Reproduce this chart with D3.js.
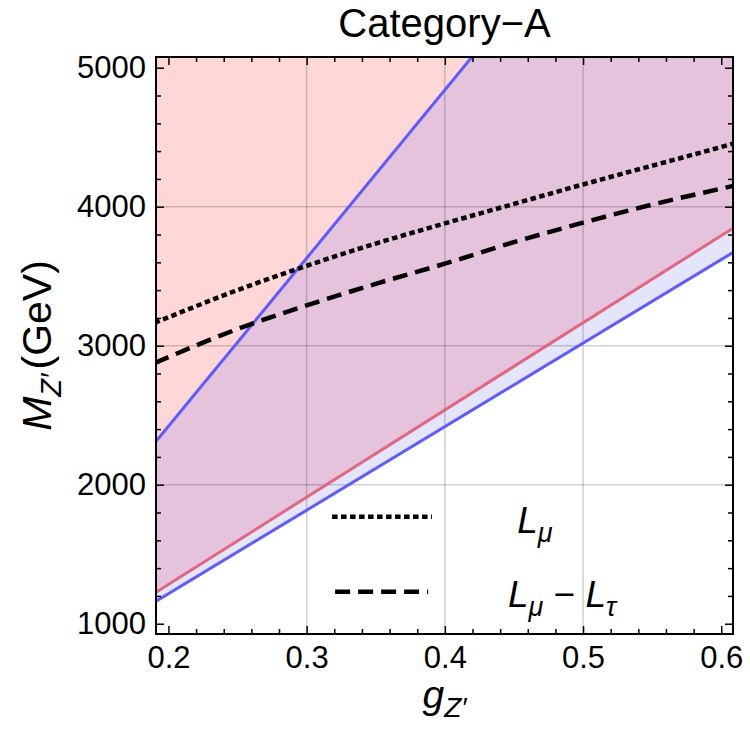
<!DOCTYPE html>
<html>
<head>
<meta charset="utf-8">
<script src="https://cdn.jsdelivr.net/npm/d3@7"></script>
<style>
  body { margin: 0; background: #fff; }
  text { font-family: "Liberation Sans", Arial, sans-serif; fill: #000; }
</style>
</head>
<body>
<div id="chart"></div>
<script>
(function() {
  'use strict';

  var gCurve = [0.19, 0.2, 0.25, 0.3, 0.35, 0.4, 0.45, 0.5, 0.55, 0.6, 0.61];
  var lMu = [3165, 3205, 3400, 3575, 3735, 3880, 4020, 4160, 4295, 4430, 4458];
  var lMuTau = [2875, 2918, 3120, 3290, 3445, 3590, 3745, 3885, 4015, 4130, 4152];

  // straight boundaries of the shaded regions
  var gBound = [0.19, 0.61];
  var redLower = [1220, 3855];
  var blueLower = [1155, 3680];
  var blueUpper = [2299, 7381];

  var xTicks = [0.2, 0.3, 0.4, 0.5, 0.6];
  var yTicks = [1000, 2000, 3000, 4000, 5000];
  var xMinor = [0.22, 0.24, 0.26, 0.28, 0.32, 0.34, 0.36, 0.38, 0.42, 0.44, 0.46, 0.48, 0.52, 0.54, 0.56, 0.58];
  var yMinor = [1200, 1400, 1600, 1800, 2200, 2400, 2600, 2800, 3200, 3400, 3600, 3800, 4200, 4400, 4600, 4800];

  var legendItems = [
    {name: "mu", dash: "5.5,3.5"},
    {name: "mutau", dash: "15,8"}
  ];

  var width = 750, height = 753;
  var margin = {left: 156, top: 57, right: 17, bottom: 119};
  var w = width - margin.left - margin.right;
  var h = height - margin.top - margin.bottom;

  var x = d3.scaleLinear().domain([0.191, 0.6085]).range([0, w]);
  var y = d3.scaleLinear().domain([926, 5077]).range([h, 0]);

  var svg = d3.select("#chart").append("svg")
    .attr("width", width)
    .attr("height", height);

  var defs = svg.append("defs");
  defs.append("clipPath").attr("id", "plotClip")
    .append("rect").attr("width", w).attr("height", h);

  var g = svg.append("g")
    .attr("transform", "translate(" + margin.left + "," + margin.top + ")");

  var plot = g.append("g").attr("clip-path", "url(#plotClip)");

  var bandArea = d3.area()
    .x(function(d, i) { return x(gBound[i]); })
    .y0(function(d, i) { return y(blueLower[i]); })
    .y1(function(d, i) { return y(blueUpper[i]); });

  var pinkArea = d3.area()
    .x(function(d, i) { return x(gBound[i]); })
    .y0(function(d, i) { return y(redLower[i]); })
    .y1(function() { return -10; });

  defs.append("clipPath").attr("id", "bandClip")
    .append("path").attr("d", bandArea(gBound));

  // fills
  plot.append("path").attr("d", pinkArea(gBound)).attr("fill", "#ffd7d7");
  plot.append("path").attr("d", bandArea(gBound)).attr("fill", "#e4e4fb");
  plot.append("path").attr("d", pinkArea(gBound)).attr("fill", "#e6c3dd")
    .attr("clip-path", "url(#bandClip)");

  // grid
  plot.selectAll(".gx").data(xTicks.slice(1, 4)).enter().append("line")
    .attr("x1", function(d) { return x(d); })
    .attr("x2", function(d) { return x(d); })
    .attr("y1", 0).attr("y2", h)
    .attr("stroke", "rgba(0,0,0,0.18)").attr("stroke-width", 1.5);
  plot.selectAll(".gy").data(yTicks.slice(1, 4)).enter().append("line")
    .attr("y1", function(d) { return y(d); })
    .attr("y2", function(d) { return y(d); })
    .attr("x1", 0).attr("x2", w)
    .attr("stroke", "rgba(0,0,0,0.18)").attr("stroke-width", 1.5);

  // boundary lines
  var bLine = function(vals) {
    return d3.line()
      .x(function(d, i) { return x(gBound[i]); })
      .y(function(d, i) { return y(vals[i]); })(gBound);
  };
  plot.append("path").attr("d", bLine(blueLower)).attr("fill", "none")
    .attr("stroke", "#5c5cff").attr("stroke-width", 3);
  plot.append("path").attr("d", bLine(redLower)).attr("fill", "none")
    .attr("stroke", "#e0687f").attr("stroke-width", 3);
  plot.append("path").attr("d", bLine(blueUpper)).attr("fill", "none")
    .attr("stroke", "#5c5cff").attr("stroke-width", 3);

  // benchmark curves
  var curve = function(vals) {
    return d3.line().curve(d3.curveMonotoneX)
      .x(function(d, i) { return x(gCurve[i]); })
      .y(function(d, i) { return y(vals[i]); })(gCurve);
  };
  plot.append("path").attr("d", curve(lMu)).attr("fill", "none")
    .attr("stroke", "#000").attr("stroke-width", 4.5)
    .attr("stroke-dasharray", legendItems[0].dash);
  plot.append("path").attr("d", curve(lMuTau)).attr("fill", "none")
    .attr("stroke", "#000").attr("stroke-width", 4.5)
    .attr("stroke-dasharray", legendItems[1].dash);

  // axes, ticks pointing inward on all four sides
  var fmtX = d3.format(".1f");
  function styleAxis(sel, fs) {
    sel.select(".domain").remove();
    sel.selectAll(".tick line").attr("stroke", "#000").attr("stroke-width", 1.5);
    sel.selectAll("text").style("font-size", fs + "px")
      .style("font-family", "'Liberation Sans', Arial, sans-serif");
  }
  g.append("g").attr("transform", "translate(0," + h + ")")
    .call(d3.axisBottom(x).tickValues(xTicks).tickSize(-8).tickPadding(12).tickFormat(fmtX))
    .call(styleAxis, 31);
  g.append("g").attr("transform", "translate(0," + h + ")")
    .call(d3.axisBottom(x).tickValues(xMinor).tickSize(-5).tickFormat(""))
    .call(styleAxis, 31);
  g.append("g")
    .call(d3.axisTop(x).tickValues(xTicks).tickSize(-8).tickFormat(""))
    .call(styleAxis, 31);
  g.append("g")
    .call(d3.axisTop(x).tickValues(xMinor).tickSize(-5).tickFormat(""))
    .call(styleAxis, 31);
  g.append("g")
    .call(d3.axisLeft(y).tickValues(yTicks).tickSize(-8).tickPadding(10).tickFormat(d3.format("d")))
    .call(styleAxis, 31);
  g.append("g")
    .call(d3.axisLeft(y).tickValues(yMinor).tickSize(-5).tickFormat(""))
    .call(styleAxis, 31);
  g.append("g").attr("transform", "translate(" + w + ",0)")
    .call(d3.axisRight(y).tickValues(yTicks).tickSize(-8).tickFormat(""))
    .call(styleAxis, 31);
  g.append("g").attr("transform", "translate(" + w + ",0)")
    .call(d3.axisRight(y).tickValues(yMinor).tickSize(-5).tickFormat(""))
    .call(styleAxis, 31);

  g.append("rect").attr("width", w).attr("height", h)
    .attr("fill", "none").attr("stroke", "#000").attr("stroke-width", 2);

  // title
  svg.append("text")
    .attr("x", margin.left + w / 2).attr("y", 37)
    .attr("text-anchor", "middle")
    .style("font-size", "40px")
    .text("Category\u2212A");

  // x label
  var xl = svg.append("text")
    .attr("x", margin.left + w / 2).attr("y", 708)
    .attr("text-anchor", "middle")
    .style("font-size", "39px");
  xl.append("tspan").style("font-style", "italic").text("g");
  xl.append("tspan").attr("dy", 9).style("font-style", "italic")
    .style("font-size", "28px").text("Z\u2032");

  // y label
  var yl = svg.append("text")
    .attr("transform", "translate(51," + (margin.top + h / 2) + ") rotate(-90)")
    .attr("text-anchor", "middle")
    .style("font-size", "41px");
  yl.append("tspan").style("font-style", "italic").text("M");
  yl.append("tspan").attr("dy", 10).style("font-style", "italic")
    .style("font-size", "29px").text("Z\u2032");
  yl.append("tspan").attr("dy", -10).attr("dx", 4).text("(GeV)");

  // legend
  var leg = g.append("g");
  leg.selectAll("line").data(legendItems).enter().append("line")
    .attr("x1", function(d, i) { return x(i ? 0.3206 : 0.3184); })
    .attr("x2", function(d, i) { return x(i ? 0.3879 : 0.3907); })
    .attr("y1", function(d, i) { return y(2000) + 32 + i * 75; })
    .attr("y2", function(d, i) { return y(2000) + 32 + i * 75; })
    .attr("stroke", "#000").attr("stroke-width", 4.5)
    .attr("stroke-dasharray", function(d) { return d.dash; });

  var t1 = leg.append("text").attr("x", x(0.4652)).attr("y", y(2000) + 48)
    .attr("text-anchor", "middle").style("font-size", "37px").style("font-style", "italic");
  t1.append("tspan").text("L");
  t1.append("tspan").attr("dy", 9).style("font-size", "27px").text("\u03bc");

  var t2 = leg.append("text").attr("x", x(0.4848)).attr("y", y(2000) + 122)
    .attr("text-anchor", "middle").style("font-size", "37px").style("font-style", "italic");
  t2.append("tspan").text("L");
  t2.append("tspan").attr("dy", 9).style("font-size", "27px").text("\u03bc");
  t2.append("tspan").attr("dy", -9).style("font-style", "normal").text(" \u2212 ");
  t2.append("tspan").text("L");
  t2.append("tspan").attr("dy", 9).style("font-size", "27px").text("\u03c4");
}());
</script>
</body>
</html>
